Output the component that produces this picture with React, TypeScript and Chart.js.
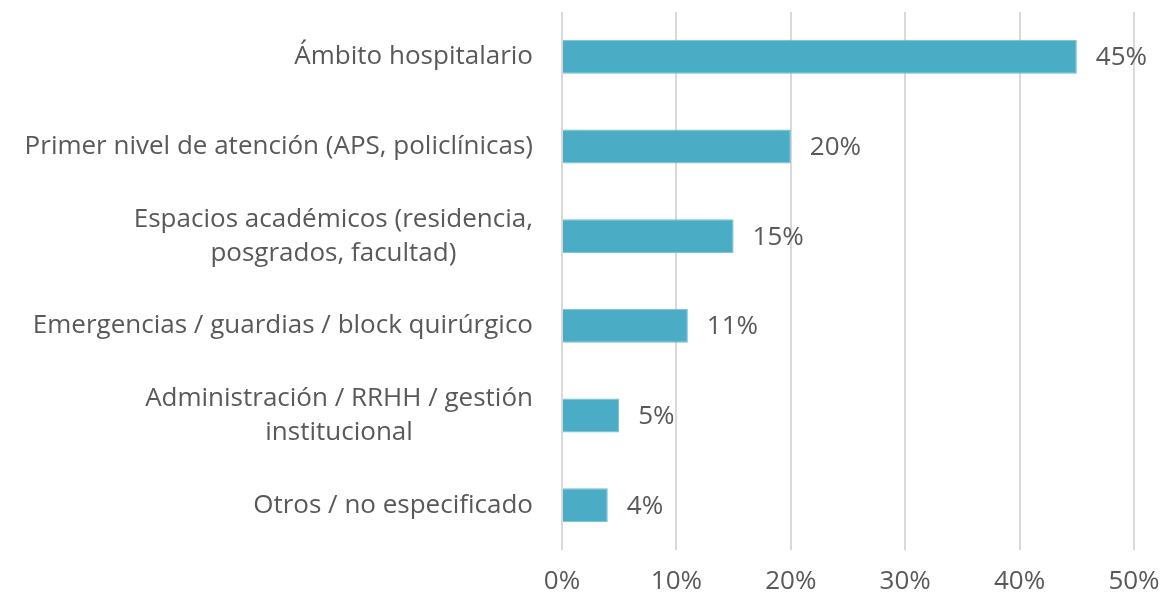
import React, { useEffect, useRef } from "react";
import { Chart, registerables } from "chart.js";

Chart.register(...registerables);

const categories: string[][] = [
  ["Ámbito hospitalario"],
  ["Primer nivel de atención (APS, policlínicas)"],
  ["Espacios académicos (residencia,", "posgrados, facultad)"],
  ["Emergencias / guardias / block quirúrgico"],
  ["Administración / RRHH / gestión", "institucional"],
  ["Otros / no especificado"],
];
const values: number[] = [45, 20, 15, 11, 5, 4];
const xTicks: number[] = [0, 10, 20, 30, 40, 50];

const FONT = "'Open Sans', Lato, sans-serif";
const TEXT = "#595959";
const FS = 26;

const labelPlugin = {
  id: "customLabels",
  afterDraw(chart: any) {
    const ctx = chart.ctx;
    const yScale = chart.scales.y;
    const area = chart.chartArea;
    ctx.save();
    ctx.font = `${FS}px ${FONT}`;
    ctx.fillStyle = TEXT;
    ctx.textBaseline = "middle";
    ctx.textAlign = "center";
    const right = area.left - 29;
    const lh = 34;
    categories.forEach((lines, i) => {
      const y = yScale.getPixelForValue(i);
      const maxW = Math.max(...lines.map((l) => ctx.measureText(l).width));
      const cx = right - maxW / 2;
      const y0 = y - ((lines.length - 1) * lh) / 2;
      lines.forEach((l, j) => ctx.fillText(l, cx, y0 + j * lh));
    });
    const meta = chart.getDatasetMeta(0);
    ctx.textAlign = "left";
    meta.data.forEach((bar: any, i: number) => {
      ctx.fillText(values[i] + "%", bar.x + 19, bar.y + 1);
    });
    ctx.restore();
  },
};

export default function App() {
  const ref = useRef<HTMLCanvasElement>(null);
  useEffect(() => {
    document.body.style.margin = "0";
    const chart = new Chart(ref.current!, {
      type: "bar",
      data: {
        labels: categories.map((c) => c.join(" ")),
        datasets: [
          {
            data: values,
            backgroundColor: "#4BACC6",
            borderColor: "#6FBFD3",
            borderWidth: 1,
            barPercentage: 0.38,
            categoryPercentage: 1,
          },
        ],
      },
      options: {
        indexAxis: "y",
        animation: false,
        responsive: false,
        layout: { padding: { left: 562, right: 32, top: 12, bottom: 0 } },
        plugins: { legend: { display: false }, tooltip: { enabled: false } },
        scales: {
          y: { display: false },
          x: {
            min: 0,
            max: 50,
            afterBuildTicks(scale: any) {
              scale.ticks = xTicks.map((v) => ({ value: v }));
            },
            afterFit(scale: any) {
              scale.height = 51;
              scale.paddingLeft = 0;
              scale.paddingRight = 0;
            },
            border: { display: false },
            grid: { color: "#D9D9D9", lineWidth: 2, drawTicks: false },
            ticks: {
              color: TEXT,
              font: { family: FONT, size: FS },
              padding: 16,
              callback: (v: any) => v + "%",
            },
          },
        },
      },
      plugins: [labelPlugin],
    });
    return () => chart.destroy();
  }, []);
  return <canvas ref={ref} width={1166} height={601} style={{ display: "block" }} />;
}
